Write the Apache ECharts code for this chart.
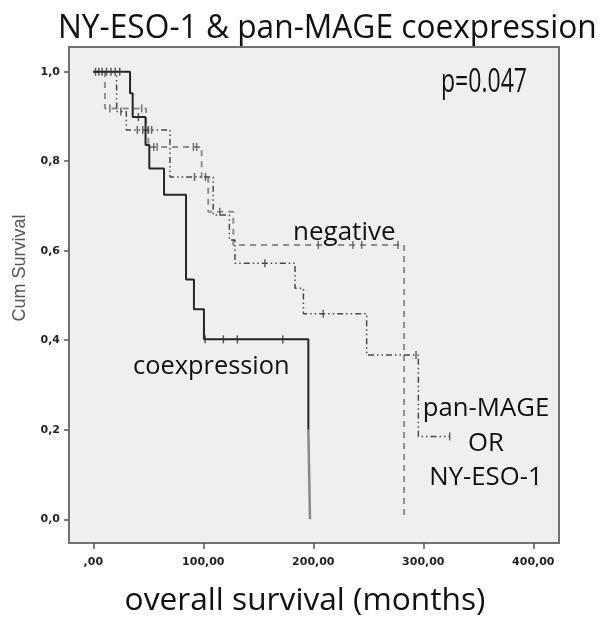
<!DOCTYPE html>
<html>
<head>
<meta charset="utf-8">
<script src="https://cdn.jsdelivr.net/npm/echarts@6/dist/echarts.min.js"></script>
<style>
html,body{margin:0;padding:0;background:#fff;}
#chart{width:604px;height:631px;}
</style>
</head>
<body>
<div id="chart"></div>
<script>
// ---- data (time in months, cumulative survival) ----
const coexTimes = [0, 33.4, 35.8, 47.5, 50.9, 64.3, 84.3, 91.5, 100.6, 195.5, 197];
const coexSurv  = [1, 0.952, 0.899, 0.836, 0.784, 0.725, 0.536, 0.469, 0.402, 0.2, 0];
const coexCensT = [2, 5, 8, 12, 16, 20, 24, 41, 101.7, 118.2, 130.9, 172.2];
const coexCensS = [1, 1, 1, 1, 1, 1, 1, 0.899, 0.402, 0.402, 0.402, 0.402];

const negTimes = [0, 10.6, 48, 50, 98.5, 104.5, 127.3, 282.5];
const negSurv  = [1, 0.918, 0.875, 0.832, 0.763, 0.687, 0.613, 0];
const negCensT = [15, 44, 55, 58, 91, 94, 115, 204.5, 236, 244, 277];
const negCensS = [0.918, 0.918, 0.832, 0.832, 0.832, 0.832, 0.687, 0.613, 0.613, 0.613, 0.613];

const orTimes = [0, 21.2, 30, 69.7, 109, 123.7, 128.8, 183.4, 191, 248.5, 295.5, 324];
const orSurv  = [1, 0.911, 0.870, 0.765, 0.680, 0.624, 0.572, 0.516, 0.459, 0.367, 0.185, 0.185];
const orCensT = [25, 40, 45, 50, 53, 92, 102, 156, 209, 293.4, 324];
const orCensS = [0.911, 0.870, 0.870, 0.870, 0.870, 0.765, 0.765, 0.572, 0.459, 0.367, 0.185];

const xTicks = [0, 100, 200, 300, 400];
const xTickLabels = [',00', '100,00', '200,00', '300,00', '400,00'];
const yTicks = [0, 0.2, 0.4, 0.6, 0.8, 1.0];
const yTickLabels = ['0,0', '0,2', '0,4', '0,6', '0,8', '1,0'];

function pairs(t, s) { return t.map((v, i) => [v, s[i]]); }

const chart = echarts.init(document.getElementById('chart'));
const censSym = 'rect';
const coexAll = pairs(coexTimes, coexSurv);
const option = {
  animation: false,
  backgroundColor: '#ffffff',
  grid: { left: 69, right: 45, top: 47, bottom: 88, containLabel: false,
          show: true, backgroundColor: '#efefef', borderColor: '#707070', borderWidth: 2 },
  xAxis: {
    type: 'value', min: -22.09, max: 423.36,
    axisLine: { show: true, onZero: false, lineStyle: { color: '#707070', width: 2 } },
    axisTick: { show: true, length: 6, customValues: xTicks, lineStyle: { color: '#555', width: 1.5 } },
    splitLine: { show: false },
    axisLabel: {
      customValues: xTicks,
      margin: 14, color: '#222', fontSize: 11, fontWeight: 'bold', fontFamily: 'DejaVu Sans',
      formatter: v => xTickLabels[xTicks.indexOf(v)]
    }
  },
  yAxis: {
    type: 'value', min: -0.053, max: 1.0552,
    axisLine: { show: true, onZero: false, lineStyle: { color: '#707070', width: 2 } },
    axisTick: { show: true, length: 5, customValues: yTicks, lineStyle: { color: '#555', width: 1.5 } },
    splitLine: { show: false },
    axisLabel: {
      customValues: yTicks,
      margin: 9, color: '#222', fontSize: 11, fontWeight: 'bold', fontFamily: 'DejaVu Sans',
      formatter: v => yTickLabels[Math.round(v * 5)]
    }
  },
  graphic: [
    { type: 'text', x: 58, y: 11.7, scaleX: 0.96, z: 10,
      style: { text: 'NY-ESO-1 & pan-MAGE coexpression', font: '33px "Open Sans"', fill: '#111' } },
    { type: 'text', x: 441, y: 67, scaleX: 0.72, z: 10,
      style: { text: 'p=0.047', font: '32px "Open Sans"', fill: '#111' } },
    { type: 'text', x: 293, y: 219.6, z: 10,
      style: { text: 'negative', font: '26px "Open Sans"', fill: '#111' } },
    { type: 'text', x: 133, y: 354, z: 10,
      style: { text: 'coexpression', font: '25.4px "Open Sans"', fill: '#111' } },
    { type: 'text', x: 486, y: 396, z: 10,
      style: { text: 'pan-MAGE', font: '25.7px "Open Sans"', fill: '#111', align: 'center' } },
    { type: 'text', x: 486, y: 430.5, z: 10,
      style: { text: 'OR', font: '25.7px "Open Sans"', fill: '#111', align: 'center' } },
    { type: 'text', x: 486, y: 465, z: 10,
      style: { text: 'NY-ESO-1', font: '25.7px "Open Sans"', fill: '#111', align: 'center' } },
    { type: 'text', x: 20, y: 268, rotation: Math.PI / 2, z: 10,
      style: { text: 'Cum Survival', font: '18px "Liberation Sans"', fill: '#555', align: 'center', verticalAlign: 'middle' } },
    { type: 'text', x: 305, y: 584.7, z: 10,
      style: { text: 'overall survival (months)', font: '31.7px "Open Sans"', fill: '#111', align: 'center' } }
  ],
  series: [
    { type: 'line', step: 'end', data: pairs(negTimes, negSurv), showSymbol: false, z: 3,
      lineStyle: { color: '#8f8f8f', width: 2, type: [6, 5] } },
    { type: 'line', step: 'end', data: pairs(orTimes, orSurv), showSymbol: false, z: 3,
      lineStyle: { color: '#4a4a4a', width: 1.5, type: [6, 3, 1.5, 3, 1.5, 3] } },
    { type: 'line', step: 'end', data: coexAll.slice(0, coexAll.length - 1), showSymbol: false, z: 4,
      lineStyle: { color: '#262626', width: 2, type: 'solid' } },
    { type: 'line', step: 'end', data: coexAll.slice(coexAll.length - 2), showSymbol: false, z: 4,
      lineStyle: { color: '#8a8a8a', width: 2.5, type: 'solid' } },
    { type: 'scatter', data: pairs(coexCensT, coexCensS), symbol: censSym, symbolSize: [1.5, 8], z: 5,
      itemStyle: { color: '#333' } },
    { type: 'scatter', data: pairs(negCensT, negCensS), symbol: censSym, symbolSize: [1.5, 8], z: 5,
      itemStyle: { color: '#555' } },
    { type: 'scatter', data: pairs(orCensT, orCensS), symbol: censSym, symbolSize: [1.5, 8], z: 5,
      itemStyle: { color: '#444' } }
  ]
};
chart.setOption(option);
</script>
</body>
</html>
